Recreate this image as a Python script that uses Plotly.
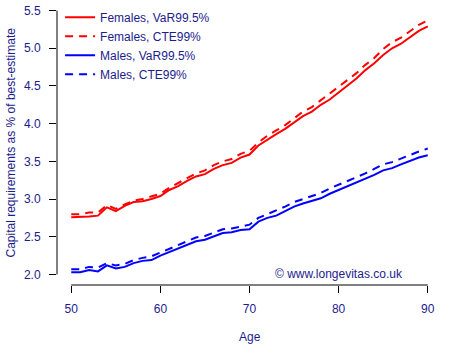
import plotly.graph_objects as go

ages = list(range(50, 91))
fem_var = [2.76, 2.76, 2.77, 2.78, 2.89, 2.84, 2.91, 2.96, 2.97, 3.00,
           3.04, 3.12, 3.17, 3.24, 3.30, 3.33, 3.40, 3.45, 3.48, 3.55,
           3.59, 3.71, 3.79, 3.86, 3.93, 4.01, 4.10, 4.16, 4.25, 4.32,
           4.41, 4.51, 4.60, 4.71, 4.80, 4.91, 5.00, 5.06, 5.15, 5.23, 5.29]
fem_cte = [2.80, 2.80, 2.82, 2.82, 2.92, 2.87, 2.93, 2.98, 3.00, 3.04,
           3.07, 3.15, 3.21, 3.28, 3.34, 3.38, 3.45, 3.50, 3.53, 3.60,
           3.64, 3.75, 3.84, 3.91, 3.98, 4.07, 4.16, 4.22, 4.31, 4.39,
           4.48, 4.58, 4.67, 4.78, 4.87, 4.99, 5.08, 5.14, 5.23, 5.31, 5.37]
male_var = [2.03, 2.03, 2.06, 2.04, 2.12, 2.08, 2.10, 2.15, 2.18, 2.19,
            2.25, 2.30, 2.35, 2.39, 2.44, 2.46, 2.51, 2.55, 2.56, 2.59,
            2.60, 2.70, 2.75, 2.78, 2.84, 2.90, 2.94, 2.97, 3.01, 3.07,
            3.12, 3.16, 3.22, 3.26, 3.32, 3.38, 3.41, 3.46, 3.51, 3.55, 3.58]
male_cte = [2.07, 2.07, 2.10, 2.09, 2.15, 2.12, 2.14, 2.19, 2.22, 2.24,
            2.29, 2.34, 2.39, 2.43, 2.49, 2.51, 2.56, 2.60, 2.61, 2.64,
            2.66, 2.75, 2.80, 2.84, 2.90, 2.96, 3.00, 3.04, 3.08, 3.14,
            3.19, 3.23, 3.29, 3.34, 3.40, 3.46, 3.49, 3.54, 3.59, 3.63, 3.67]

x_ticks = [50, 60, 70, 80, 90]
y_ticks = [2.0, 2.5, 3.0, 3.5, 4.0, 4.5, 5.0, 5.5]
y_labels = ["2.0", "2.5", "3.0", "3.5", "4.0", "4.5", "5.0", "5.5"]

TXT = "#1c1c8c"
FONT = "Liberation Sans, Arial, sans-serif"

series = [
    ("Females, VaR99.5%", fem_var, "#ff0000", "solid"),
    ("Females, CTE99%", fem_cte, "#ff0000", "8px,6px"),
    ("Males, VaR99.5%", male_var, "#0000ff", "solid"),
    ("Males, CTE99%", male_cte, "#0000ff", "8px,6px"),
]

fig = go.Figure()
for name, vals, col, dash in series:
    fig.add_trace(go.Scatter(x=ages, y=vals, mode="lines", name=name,
                             line=dict(color=col, width=2, dash=dash)))

fig.update_layout(
    width=450, height=350,
    margin=dict(l=57, r=8, t=0, b=65),
    paper_bgcolor="white", plot_bgcolor="white",
    font=dict(family=FONT, size=12, color=TXT),
    showlegend=True,
    legend=dict(x=0.008, y=0.99, xanchor="left", yanchor="top",
                bgcolor="rgba(0,0,0,0)", font=dict(size=12, color=TXT),
                tracegroupgap=0, itemwidth=30),
    xaxis=dict(range=[48.4, 91.6], tickvals=x_ticks, ticks="outside",
               ticklen=7, tickcolor="black", showgrid=False, zeroline=False,
               showline=False, ticklabelstandoff=6,
               tickfont=dict(size=12, color=TXT)),
    yaxis=dict(range=[1.86, 5.64], tickvals=y_ticks, ticktext=y_labels,
               ticks="outside", ticklen=7, tickcolor="black", showgrid=False,
               zeroline=False, showline=False, ticklabelstandoff=6,
               tickfont=dict(size=12, color=TXT)),
    shapes=[
        dict(type="line", xref="x", yref="paper", x0=x_ticks[0], x1=x_ticks[-1],
             y0=0, y1=0, line=dict(color="black", width=1)),
        dict(type="line", xref="paper", yref="y", x0=0, x1=0,
             y0=y_ticks[0], y1=y_ticks[-1], line=dict(color="black", width=1)),
    ],
    annotations=[
        dict(text="Age", xref="x", yref="paper", x=70, y=-0.1825,
             showarrow=False, font=dict(size=12, color=TXT),
             xanchor="center", yanchor="middle"),
        dict(text="Capital requirements as % of best-estimate", xref="paper",
             yref="paper", x=-0.122, y=0.5, textangle=-90, showarrow=False,
             font=dict(size=12, color=TXT), xanchor="center", yanchor="middle"),
        dict(text="© www.longevitas.co.uk", xref="x", yref="y", x=80, y=2.0,
             showarrow=False, font=dict(size=12, color=TXT),
             xanchor="center", yanchor="middle"),
    ],
)

fig.write_html("out.html")
